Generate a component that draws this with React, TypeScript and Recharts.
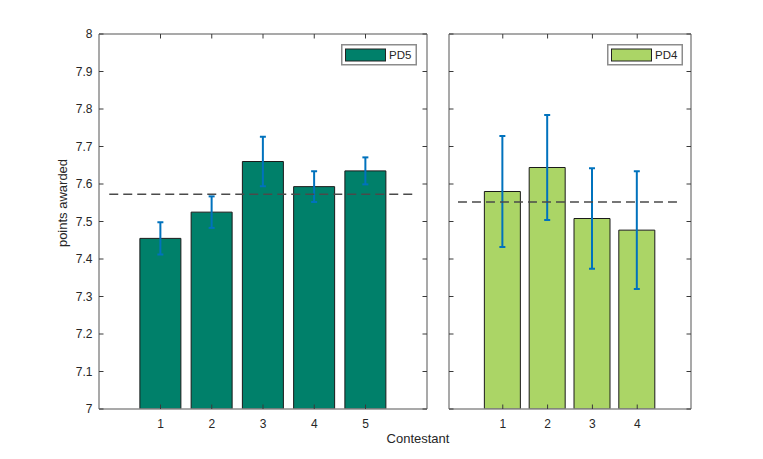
import React from 'react';
import { BarChart, Bar, Line, XAxis, YAxis, ErrorBar, ReferenceLine } from 'recharts';

const contestantsPD5 = [1, 2, 3, 4, 5];
const meanPD5 = [7.455, 7.525, 7.66, 7.593, 7.635];
const errPD5 = [0.043, 0.042, 0.066, 0.041, 0.036];
const avgPD5 = 7.573;

const contestantsPD4 = [1, 2, 3, 4];
const meanPD4 = [7.58, 7.644, 7.508, 7.477];
const errPD4 = [0.148, 0.14, 0.134, 0.157];
const avgPD4 = 7.552;

const yTicks = [7, 7.1, 7.2, 7.3, 7.4, 7.5, 7.6, 7.7, 7.8, 7.9, 8];
const yTickLabels = ['7', '7.1', '7.2', '7.3', '7.4', '7.5', '7.6', '7.7', '7.8', '7.9', '8'];

const seriesNames = ['PD5', 'PD4'];
const xLabel = 'Contestant';
const yLabel = 'points awarded';

const W = 763;
const H = 459;
const FONT = '"Liberation Sans", Arial, Helvetica, sans-serif';
const FRAME = '#8c8c8c';
const TICK = '#3a3a3a';
const TEXT = '#262626';
const COLOR_PD5 = '#00806a';
const COLOR_PD4 = '#abd566';
const ERR = '#0072bd';
const TL = 4.5;

type Row = { x: number; v: number; e: number };

const dataPD5: Row[] = contestantsPD5.map((c, i) => ({ x: c, v: meanPD5[i], e: errPD5[i] }));
const dataPD4: Row[] = contestantsPD4.map((c, i) => ({ x: c, v: meanPD4[i], e: errPD4[i] }));

function BottomTick(props: any) {
  const { x, y, payload } = props;
  return (
    <g>
      <line x1={x} y1={y} x2={x} y2={y - TL} stroke={TICK} strokeWidth={1} />
      <text x={x} y={y + 18.5} textAnchor="middle" fontFamily={FONT} fontSize={12} fill={TEXT}>
        {String(payload.value)}
      </text>
    </g>
  );
}

function TopTick(props: any) {
  const { x, y } = props;
  return <line x1={x} y1={y} x2={x} y2={y + TL} stroke={TICK} strokeWidth={1} />;
}

function makeLeftTick(showLabel: boolean) {
  return function LeftTick(props: any) {
    const { x, y, payload } = props;
    const idx = yTicks.indexOf(payload.value);
    const lbl = idx >= 0 ? yTickLabels[idx] : String(payload.value);
    return (
      <g>
        <line x1={x} y1={y} x2={x + TL} y2={y} stroke={TICK} strokeWidth={1} />
        {showLabel ? (
          <text x={x - 6.5} y={y + 4.3} textAnchor="end" fontFamily={FONT} fontSize={12} fill={TEXT}>
            {lbl}
          </text>
        ) : null}
      </g>
    );
  };
}

function RightTick(props: any) {
  const { x, y } = props;
  return <line x1={x} y1={y} x2={x - TL} y2={y} stroke={TICK} strokeWidth={1} />;
}

const LeftTickLabeled = makeLeftTick(true);
const LeftTickPlain = makeLeftTick(false);

function LegendBox({ color, label }: { color: string; label: string }) {
  return (
    <svg width={76} height={22} style={{ display: 'block' }}>
      <rect x={0.75} y={0.75} width={74.5} height={20} fill="#fff" stroke={FRAME} strokeWidth={1.5} />
      <rect x={4.5} y={5} width={40} height={12} fill={color} stroke="#222" strokeWidth={1} />
      <text x={48} y={15} fontFamily={FONT} fontSize={11.5} fill={TEXT}>
        {label}
      </text>
    </svg>
  );
}

type PanelProps = {
  data: Row[];
  domainX: [number, number];
  ticksX: number[];
  avg: number;
  avgRange: [number, number];
  color: string;
  barSize: number;
  left: number;
  right: number;
  showYLabels: boolean;
  name: string;
};

function Panel(p: PanelProps) {
  const axisLine = { stroke: FRAME, strokeWidth: 1.5 };
  return (
    <div style={{ position: 'absolute', left: 0, top: 0 }}>
      <BarChart
        width={W}
        height={H}
        data={p.data}
        margin={{ top: 33, left: p.left - 1, right: W - p.right - 1, bottom: 20 }}
      >
        <XAxis
          dataKey="x"
          type="number"
          domain={p.domainX}
          ticks={p.ticksX}
          interval={0}
          allowDataOverflow
          height={30}
          tickSize={0}
          tickMargin={0}
          tickLine={false}
          axisLine={axisLine}
          tick={BottomTick}
        />
        <XAxis
          xAxisId="top"
          dataKey="x"
          orientation="top"
          type="number"
          domain={p.domainX}
          ticks={p.ticksX}
          interval={0}
          allowDataOverflow
          height={1}
          tickSize={0}
          tickMargin={0}
          tickLine={false}
          axisLine={axisLine}
          tick={TopTick}
        />
        <YAxis
          type="number"
          domain={[7, 8]}
          ticks={yTicks}
          interval={0}
          allowDataOverflow
          width={1}
          tickSize={0}
          tickMargin={0}
          tickLine={false}
          axisLine={axisLine}
          tick={p.showYLabels ? LeftTickLabeled : LeftTickPlain}
        />
        <YAxis
          yAxisId="right"
          orientation="right"
          type="number"
          domain={[7, 8]}
          ticks={yTicks}
          interval={0}
          allowDataOverflow
          width={1}
          tickSize={0}
          tickMargin={0}
          tickLine={false}
          axisLine={axisLine}
          tick={RightTick}
        />
        <Bar
          dataKey="v"
          name={p.name}
          fill={p.color}
          stroke="#1a1a1a"
          strokeWidth={1}
          barSize={p.barSize}
          isAnimationActive={false}
        >
          <ErrorBar dataKey="e" direction="y" width={3} stroke={ERR} strokeWidth={2} />
        </Bar>
        <Line
          xAxisId="top"
          yAxisId="right"
          dataKey="v"
          stroke="none"
          dot={false}
          activeDot={false}
          legendType="none"
          isAnimationActive={false}
        />
        <ReferenceLine
          segment={[
            { x: p.avgRange[0], y: p.avg },
            { x: p.avgRange[1], y: p.avg },
          ]}
          stroke="#4a4a4a"
          strokeWidth={1.5}
          strokeDasharray="9 5"
        />
      </BarChart>
    </div>
  );
}

export default function App() {
  return (
    <div style={{ position: 'relative', width: W, height: H, background: '#fff', overflow: 'hidden' }}>
      <style>{'body{margin:0;background:#fff}'}</style>
      <Panel
        data={dataPD5}
        domainX={[-0.2, 6.2]}
        ticksX={contestantsPD5}
        avg={avgPD5}
        avgRange={[0, 6]}
        color={COLOR_PD5}
        barSize={41}
        left={99}
        right={427}
        showYLabels
        name={seriesNames[0]}
      />
      <Panel
        data={dataPD4}
        domainX={[-0.2, 5.2]}
        ticksX={contestantsPD4}
        avg={avgPD4}
        avgRange={[0, 5]}
        color={COLOR_PD4}
        barSize={36}
        left={449}
        right={691}
        showYLabels={false}
        name={seriesNames[1]}
      />
      <div style={{ position: 'absolute', left: 341, top: 44 }}>
        <LegendBox color={COLOR_PD5} label={seriesNames[0]} />
      </div>
      <div style={{ position: 'absolute', left: 607, top: 44 }}>
        <LegendBox color={COLOR_PD4} label={seriesNames[1]} />
      </div>
      <svg width={W} height={H} style={{ position: 'absolute', left: 0, top: 0, pointerEvents: 'none' }}>
        <text x={418} y={442.5} textAnchor="middle" fontFamily={FONT} fontSize={13} fill={TEXT}>
          {xLabel}
        </text>
        <text
          x={66.5}
          y={203}
          textAnchor="middle"
          transform="rotate(-90 66.5 203)"
          fontFamily={FONT}
          fontSize={13}
          fill={TEXT}
        >
          {yLabel}
        </text>
      </svg>
    </div>
  );
}
